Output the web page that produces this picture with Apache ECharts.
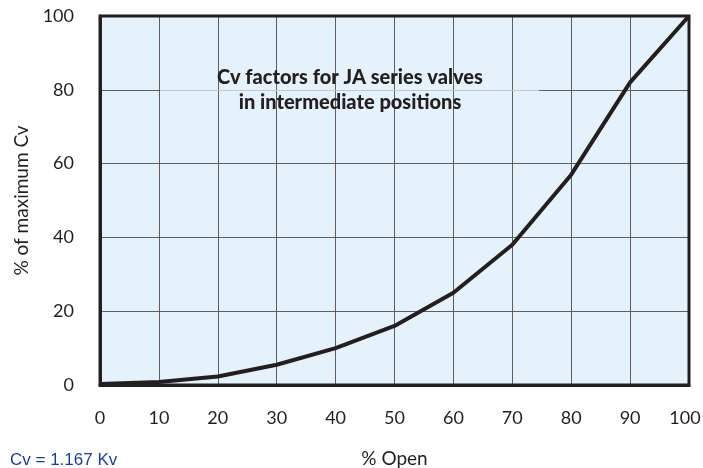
<!DOCTYPE html>
<html>
<head>
<meta charset="utf-8">
<script src="https://cdn.jsdelivr.net/npm/echarts@6/dist/echarts.min.js"></script>
<style>
  html, body { margin: 0; padding: 0; background: #fff; }
  #chart { width: 703px; height: 468px; }
</style>
</head>
<body>
<div id="chart"></div>
<script>
  // % open vs % of maximum Cv
  var openPct = [0, 10, 20, 30, 40, 50, 60, 70, 80, 90, 100];
  var cvPct = [0.3, 0.8, 2.3, 5.5, 10, 16, 25, 38, 57, 82, 100];
  var titleLines = ['Cv factors for JA series valves', 'in intermediate positions'];
  var noteText = 'Cv = 1.167 Kv';

  var font = 'Lato';
  var chart = echarts.init(document.getElementById('chart'));

  chart.setOption({
    animation: false,
    textStyle: { fontFamily: font },
    grid: {
      left: 100, right: 14, top: 16, bottom: 83,
      outerBoundsMode: 'none',
      containLabel: false,
      show: true,
      backgroundColor: '#e6f2fb',
      borderWidth: 0
    },
    xAxis: {
      type: 'value',
      min: 0, max: 100, interval: 10,
      name: '% Open',
      nameLocation: 'middle',
      nameGap: 64,
      nameTextStyle: { color: '#231f20', fontSize: 19, fontFamily: font },
      axisLine: { show: true, onZero: false, lineStyle: { color: '#231f20', width: 3 } },
      axisTick: { show: false },
      axisLabel: {
        color: '#231f20', fontSize: 18, margin: 24,
        // last label sits a little left so it stays inside the page
        formatter: function (v) { return v === 100 ? '{r|100}' : String(v); },
        rich: { r: { fontSize: 18, color: '#231f20', padding: [0, 8, 0, 0] } }
      },
      splitLine: { show: true, lineStyle: { color: '#5e5e5e', width: 1 } }
    },
    yAxis: {
      type: 'value',
      min: 0, max: 100, interval: 20,
      name: '% of maximum Cv',
      nameLocation: 'middle',
      nameGap: 61,
      nameTextStyle: { color: '#231f20', fontSize: 19, fontFamily: font },
      axisLine: { show: true, lineStyle: { color: '#231f20', width: 3 } },
      axisTick: { show: false },
      axisLabel: { color: '#231f20', fontSize: 18, margin: 26 },
      splitLine: { show: true, lineStyle: { color: '#5e5e5e', width: 1 } }
    },
    graphic: [
      {
        // frame on the top and right edges
        type: 'rect', z: 50, silent: true,
        shape: { x: 100, y: 16, width: 589, height: 369 },
        style: { fill: 'none', stroke: '#231f20', lineWidth: 3 }
      },
      {
        type: 'line', z: 1, silent: true,
        shape: { x1: 160, y1: 90.5, x2: 539, y2: 90.5 },
        style: { stroke: '#c4c8cb', lineWidth: 1 }
      },
      {
        type: 'text', z: 60, x: 350, y: 65,
        style: {
          text: titleLines.join('\n'),
          fontFamily: font, fontWeight: 900, fontSize: 20,
          lineHeight: 25, fill: '#231f20', align: 'center'
        }
      },
      {
        type: 'text', z: 60, x: 10, y: 452,
        style: { text: noteText, fontFamily: 'Liberation Sans', fontSize: 17, fill: '#1f3f8c' }
      }
    ],
    series: [{
      type: 'line',
      data: openPct.map(function (x, i) { return [x, cvPct[i]]; }),
      symbol: 'none',
      z: 40,
      lineStyle: { color: '#231f20', width: 4 }
    }]
  });
</script>
</body>
</html>
